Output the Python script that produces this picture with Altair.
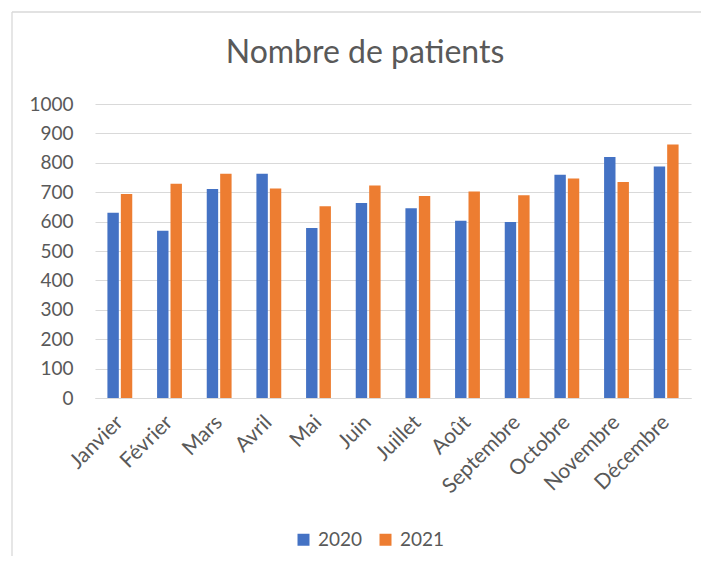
import altair as alt
import pandas as pd

months = ["Janvier", "Février", "Mars", "Avril", "Mai", "Juin", "Juillet",
          "Août", "Septembre", "Octobre", "Novembre", "Décembre"]
values_2020 = [630, 569, 711, 763, 578, 663, 645, 603, 599, 759, 820, 787]
values_2021 = [694, 729, 763, 713, 652, 723, 687, 702, 690, 747, 735, 862]
years = ["2020", "2021"]
y_ticks = [0, 100, 200, 300, 400, 500, 600, 700, 800, 900, 1000]
title_text = "Nombre de patients"

rows = []
for m, a, b in zip(months, values_2020, values_2021):
    rows.append({"mois": m, "annee": "2020", "patients": a})
    rows.append({"mois": m, "annee": "2021", "patients": b})
df = pd.DataFrame(rows)

FONT = "Lato"
TXT = "#595959"
GRID = "#D9D9D9"

bars = alt.Chart(df).mark_bar().encode(
    x=alt.X("mois:N", sort=months, title=None,
            scale=alt.Scale(paddingInner=0.5, paddingOuter=0.25),
            axis=alt.Axis(labelAngle=-45, labelAlign="right", labelBaseline="middle",
                          labelPadding=21, labelOffset=0, ticks=False,
                          domain=True, domainColor=GRID, domainWidth=1,
                          labelFont=FONT, labelFontSize=21, labelColor=TXT)),
    xOffset=alt.XOffset("annee:N", scale=alt.Scale(paddingInner=0.15)),
    y=alt.Y("patients:Q", title=None,
            scale=alt.Scale(domain=[0, 1000]),
            axis=alt.Axis(values=y_ticks, format="d", ticks=False, domain=False,
                          grid=True, gridColor=GRID, gridWidth=1,
                          labelPadding=22, labelFont=FONT, labelFontSize=19,
                          labelColor=TXT)),
    color=alt.Color("annee:N", title=None,
                    scale=alt.Scale(domain=years, range=["#4472C4", "#ED7D31"]),
                    legend=alt.Legend(orient="none", legendX=199, legendY=426,
                                      direction="horizontal", symbolType="square",
                                      symbolSize=144, symbolStrokeWidth=0,
                                      labelFont=FONT, labelFontSize=19, labelColor=TXT,
                                      labelOffset=5, columnPadding=13)),
)

frame_df = pd.DataFrame({"t": [title_text]})
top_line = alt.Chart(frame_df).mark_rule(color=GRID, strokeWidth=1.3).encode(
    x=alt.value(-83), x2=alt.value(606), y=alt.value(-92), y2=alt.value(-92))
left_line = alt.Chart(frame_df).mark_rule(color=GRID, strokeWidth=1.3).encode(
    x=alt.value(-83), x2=alt.value(-83), y=alt.value(-92), y2=alt.value(452))
title = alt.Chart(frame_df).mark_text(
    font=FONT, fontSize=32, color=TXT, align="center", baseline="alphabetic"
).encode(text="t:N", x=alt.value(270), y=alt.value(-41))

chart = alt.layer(top_line, left_line, title, bars).properties(
    width=596, height=294,
    padding={"left": 3, "top": 3, "right": 0, "bottom": 0},
).configure_view(stroke=None)

chart.save("out.html", embed_options={"renderer": "svg", "actions": False})
